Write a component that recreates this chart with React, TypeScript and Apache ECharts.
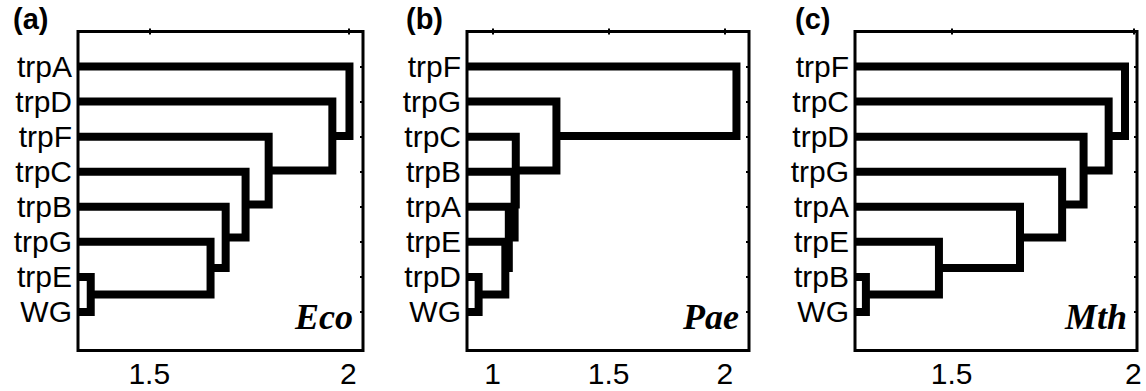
import React, { useEffect, useRef } from "react";
import * as echarts from "echarts";

// ---------- data ----------
const LEAVES_A = ["trpA", "trpD", "trpF", "trpC", "trpB", "trpG", "trpE", "WG"];
const MERGES_A: [string, string, number][] = [
  ["trpE", "WG", 1.353],
  ["trpG", "m1", 1.654],
  ["trpB", "m2", 1.692],
  ["trpC", "m3", 1.742],
  ["trpF", "m4", 1.8],
  ["trpD", "m5", 1.96],
  ["trpA", "m6", 2.003],
];
const TICKS_A = [1.5, 2];
const RANGE_A = [1.321, 2.037];

const LEAVES_B = ["trpF", "trpG", "trpC", "trpB", "trpA", "trpE", "trpD", "WG"];
const MERGES_B: [string, string, number][] = [
  ["trpD", "WG", 0.94],
  ["trpE", "m1", 1.055],
  ["trpA", "m2", 1.07],
  ["trpB", "m3", 1.095],
  ["trpC", "m4", 1.1],
  ["trpG", "m5", 1.275],
  ["trpF", "m6", 2.05],
];
const TICKS_B = [1, 1.5, 2];
const RANGE_B = [0.89, 2.104];

const LEAVES_C = ["trpF", "trpC", "trpD", "trpG", "trpA", "trpE", "trpB", "WG"];
const MERGES_C: [string, string, number][] = [
  ["trpB", "WG", 1.264],
  ["trpE", "m1", 1.465],
  ["trpA", "m2", 1.688],
  ["trpG", "m3", 1.804],
  ["trpD", "m4", 1.863],
  ["trpC", "m5", 1.932],
  ["trpF", "m6", 1.977],
];
const TICKS_C = [1.5, 2];
const RANGE_C = [1.234, 2.01];

const PANEL_LETTERS = ["(a)", "(b)", "(c)"];
const PANEL_NAMES = ["Eco", "Pae", "Mth"];

const SANS = "'Liberation Sans', Arial, Helvetica, sans-serif";
const SERIF = "'Liberation Serif', 'Times New Roman', serif";

type Panel = {
  leaves: string[];
  merges: [string, string, number][];
  ticks: number[];
  range: number[];
};

const PANELS: Panel[] = [
  { leaves: LEAVES_A, merges: MERGES_A, ticks: TICKS_A, range: RANGE_A },
  { leaves: LEAVES_B, merges: MERGES_B, ticks: TICKS_B, range: RANGE_B },
  { leaves: LEAVES_C, merges: MERGES_C, ticks: TICKS_C, range: RANGE_C },
];

const GRID_LEFTS = [78, 467, 855];
const GRID_WIDTHS = [285, 282, 282];
const LETTER_LEFTS = [13, 406, 795];
const GRID_TOP = 31.5;
const GRID_HEIGHT = 319;

function buildOption() {
  const grid: any[] = [];
  const xAxis: any[] = [];
  const yAxis: any[] = [];
  const series: any[] = [];
  const graphic: any[] = [];

  PANELS.forEach((p, pi) => {
    grid.push({
      left: GRID_LEFTS[pi],
      top: GRID_TOP,
      width: GRID_WIDTHS[pi],
      height: GRID_HEIGHT,
      show: true,
      borderColor: "#000",
      borderWidth: 3,
      backgroundColor: "transparent",
    });
    const xMin = p.range[0];
    const xMax = p.range[1];
    const base = {
      type: "value",
      gridIndex: pi,
      min: xMin,
      max: xMax,
      splitLine: { show: false },
      axisLine: { show: false },
    };
    xAxis.push({
      ...base,
      position: "bottom",
      axisTick: {
        show: true,
        inside: true,
        length: 3,
        lineStyle: { color: "#000", width: 2 },
        customValues: p.ticks,
      },
      axisLabel: {
        show: true,
        customValues: p.ticks,
        color: "#000",
        fontFamily: SANS,
        fontSize: 30,
        margin: 8,
        formatter: (v: number) => String(v),
      },
    });
    xAxis.push({
      ...base,
      position: "top",
      axisTick: {
        show: true,
        inside: true,
        length: 3,
        lineStyle: { color: "#000", width: 2 },
        customValues: p.ticks,
      },
      axisLabel: { show: false },
    });
    const leafPos = p.leaves.map((_, i) => i + 1);
    const yBase = {
      type: "value",
      gridIndex: pi,
      min: 0,
      max: 9.1,
      inverse: true,
      splitLine: { show: false },
      axisLine: { show: false },
    };
    yAxis.push({
      ...yBase,
      position: "left",
      axisTick: {
        show: true,
        inside: true,
        length: 3,
        lineStyle: { color: "#000", width: 2 },
        customValues: leafPos,
      },
      axisLabel: {
        show: true,
        customValues: leafPos,
        color: "#000",
        fontFamily: SANS,
        fontSize: 30,
        margin: 6,
        formatter: (v: number) => p.leaves[Math.round(v) - 1] ?? "",
      },
    });
    yAxis.push({
      ...yBase,
      position: "right",
      axisTick: {
        show: true,
        inside: true,
        length: 3,
        lineStyle: { color: "#000", width: 2 },
        customValues: leafPos,
      },
      axisLabel: { show: false },
    });

    const nodes: Record<string, { h: number; y: number }> = {};
    p.leaves.forEach((name, i) => {
      nodes[name] = { h: xMin, y: i + 1 };
    });
    p.merges.forEach(([a, b, h], mi) => {
      const na = nodes[a];
      const nb = nodes[b];
      series.push({
        type: "line",
        xAxisIndex: pi * 2,
        yAxisIndex: pi * 2,
        data: [
          [na.h, na.y],
          [h, na.y],
          [h, nb.y],
          [nb.h, nb.y],
        ],
        symbol: "none",
        clip: true,
        silent: true,
        lineStyle: { color: "#000", width: 8, join: "miter", cap: "butt" },
        z: 3,
      });
      nodes["m" + (mi + 1)] = { h, y: (na.y + nb.y) / 2 };
    });

    graphic.push({
      type: "text",
      left: LETTER_LEFTS[pi],
      top: 4,
      style: {
        text: PANEL_LETTERS[pi],
        font: `bold 29px ${SANS}`,
        fill: "#000",
      },
    });
    graphic.push({
      type: "text",
      x: GRID_LEFTS[pi] + GRID_WIDTHS[pi] - 10,
      y: 317,
      style: {
        text: PANEL_NAMES[pi],
        font: `italic bold 36px ${SERIF}`,
        fill: "#000",
        align: "right",
        verticalAlign: "middle",
      },
      z: 10,
    });
  });

  return {
    animation: false,
    backgroundColor: "#fff",
    grid,
    xAxis,
    yAxis,
    series,
    graphic,
  };
}

export default function App() {
  const ref = useRef<HTMLDivElement>(null);
  useEffect(() => {
    document.body.style.margin = "0";
    if (!ref.current) return;
    const chart = echarts.init(ref.current, undefined, { renderer: "svg" });
    chart.setOption(buildOption() as any);
    return () => {
      chart.dispose();
    };
  }, []);
  return <div ref={ref} style={{ width: 1146, height: 391 }} />;
}
